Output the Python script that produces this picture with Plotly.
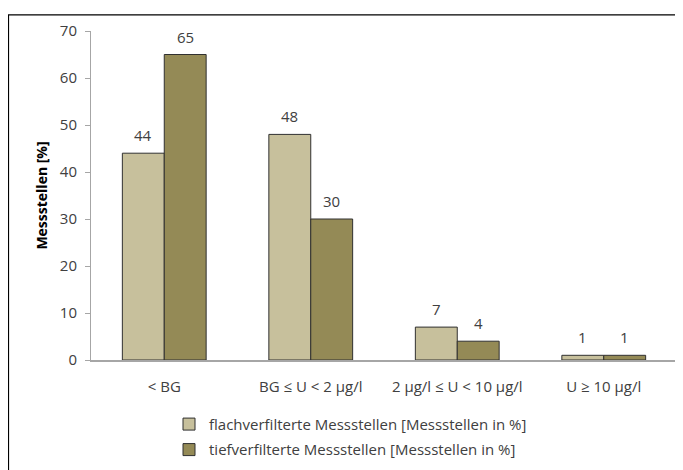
import plotly.graph_objects as go

categories = ["< BG", "BG ≤ U < 2 µg/l", "2 µg/l ≤ U < 10 µg/l", "U ≥ 10 µg/l"]
flach_values = [44, 48, 7, 1]
tief_values = [65, 30, 4, 1]
series_names = ["flachverfilterte Messstellen [Messstellen in %]",
                "tiefverfilterte Messstellen [Messstellen in %]"]
y_ticks = [0, 10, 20, 30, 40, 50, 60, 70]

W, H = 683, 470
L, R, T, B = 83, 14, 17, 116
pw, ph = W - L - R, H - T - B
plot_bottom = H - B

font_family = "Open Sans, Liberation Sans, sans-serif"
txt_col = "#404040"
bargap = 0.428
bar_px = pw / len(categories) * (1 - bargap) / 2

fig = go.Figure()
fig.add_trace(go.Bar(
    x=categories, y=flach_values, name=series_names[0],
    marker=dict(color="#c7c09c", line=dict(color="#303030", width=1)),
    legendgroup="a",
))
fig.add_trace(go.Bar(
    x=categories, y=tief_values, name=series_names[1],
    marker=dict(color="#948a56", line=dict(color="#303030", width=1)),
    legendgroup="b",
))

# value labels
for vals, sign in ((flach_values, -1), (tief_values, 1)):
    for c, v in zip(categories, vals):
        fig.add_annotation(x=c, y=v, text=str(v), showarrow=False,
                           xshift=sign * bar_px / 2, yshift=18, yanchor="middle",
                           font=dict(size=15, color=txt_col))

# figure border
fig.add_shape(type="rect", xref="paper", yref="paper",
              x0=(0.5 - L) / pw, x1=(W - 0.5 - L) / pw,
              y0=(plot_bottom - (H - 0.5)) / ph, y1=(plot_bottom - 0.5) / ph,
              line=dict(color="#000000", width=1.2), layer="below")

fig.update_layout(
    width=W, height=H,
    margin=dict(l=L, r=R, t=T, b=B),
    paper_bgcolor="white", plot_bgcolor="white",
    font=dict(family=font_family, size=15, color=txt_col),
    barmode="group", bargap=bargap, bargroupgap=0,
    showlegend=True,
    legend=dict(orientation="v", x=(161 - L) / pw, xanchor="left",
                y=(plot_bottom - 403) / ph, yanchor="top",
                tracegroupgap=3, itemwidth=30,
                font=dict(size=15, color=txt_col)),
    xaxis=dict(showline=True, linecolor="#a6a6a6", linewidth=1.5,
               ticks="", showgrid=False, ticklabelstandoff=12,
               tickfont=dict(size=15, color=txt_col)),
    yaxis=dict(range=[0, 70], tickvals=y_ticks, showline=True, linecolor="#a6a6a6",
               linewidth=1, ticks="outside", ticklen=5, tickcolor="#a6a6a6",
               ticklabelstandoff=5,
               showgrid=False, zeroline=False, tickfont=dict(size=15, color=txt_col),
               title=dict(text="<b>Messstellen [%]</b>", font=dict(size=14, color="#000000"),
                          standoff=8)),
)

fig.write_html("out.html")
